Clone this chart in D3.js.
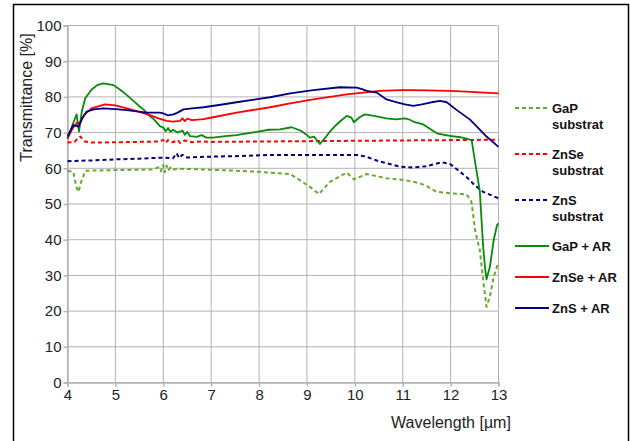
<!DOCTYPE html>
<html>
<head>
<meta charset="utf-8">
<script src="https://cdn.jsdelivr.net/npm/d3@7"></script>
<style>
  body { margin: 0; background: #fff; }
  text { font-family: "Liberation Sans", Arial, sans-serif; }
</style>
</head>
<body>
<div id="chart"></div>
<script>
// data: wavelength [um] and transmittance [%]
const gapSubX = [4.0, 4.12, 4.18, 4.23, 4.28, 4.37, 4.6, 5.0, 5.5, 5.8, 5.9, 5.95, 6.0, 6.03, 6.07, 6.1, 6.15, 6.2, 6.3, 6.5, 6.77, 7.4, 8.02, 8.65, 8.85, 9.06, 9.25, 9.48, 9.83, 9.98, 10.25, 10.66, 11.05, 11.36, 11.5, 11.71, 12.0, 12.33, 12.42, 12.44, 12.51, 12.61, 12.68, 12.75, 12.82, 12.9, 12.99];
const gapSubY = [59.3, 59.0, 55.0, 53.4, 56.0, 59.3, 59.4, 59.5, 59.6, 59.7, 60.3, 59.2, 61.0, 58.9, 60.8, 59.4, 60.2, 59.6, 59.9, 59.8, 59.7, 59.4, 59.0, 58.4, 56.7, 54.8, 52.8, 56.2, 58.8, 56.9, 58.4, 57.2, 56.7, 55.8, 55.0, 53.4, 53.0, 52.7, 51.1, 50.2, 42.7, 37.1, 28.7, 21.2, 24.0, 29.6, 33.4];

const znseSubX = [4.0, 4.15, 4.22, 4.27, 4.35, 4.5, 5.0, 5.5, 5.9, 6.0, 6.05, 6.1, 6.2, 6.3, 6.35, 6.45, 6.6, 6.8, 7.0, 8.0, 9.0, 10.0, 11.0, 12.0, 13.0];
const znseSubY = [67.2, 67.4, 68.5, 68.9, 67.6, 67.2, 67.3, 67.4, 67.5, 67.9, 67.1, 67.9, 67.3, 67.9, 67.1, 67.8, 67.3, 67.5, 67.4, 67.5, 67.6, 67.7, 67.8, 67.9, 68.0];

const znsSubX = [4.0, 4.5, 5.0, 5.5, 6.0, 6.2, 6.28, 6.33, 6.4, 6.5, 6.77, 7.5, 8.16, 9.0, 10.04, 10.2, 10.52, 10.94, 11.22, 11.5, 11.81, 11.99, 12.15, 12.33, 12.5, 12.68, 13.0];
const znsSubY = [62.0, 62.2, 62.5, 62.7, 63.0, 62.8, 64.2, 62.9, 63.8, 63.0, 63.2, 63.4, 63.7, 63.7, 63.7, 63.4, 61.9, 60.5, 60.2, 60.6, 61.7, 61.2, 59.5, 57.6, 55.3, 53.4, 51.6];

const gapArX = [4.0, 4.1, 4.19, 4.24, 4.3, 4.37, 4.5, 4.62, 4.75, 4.96, 5.1, 5.24, 5.4, 5.51, 5.6, 5.72, 5.8, 5.93, 6.0, 6.05, 6.1, 6.15, 6.2, 6.3, 6.4, 6.45, 6.5, 6.56, 6.7, 6.8, 6.9, 7.04, 7.3, 7.53, 7.75, 7.95, 8.2, 8.44, 8.68, 8.78, 8.89, 9.0, 9.06, 9.15, 9.2, 9.27, 9.38, 9.48, 9.6, 9.69, 9.83, 9.93, 9.98, 10.1, 10.21, 10.4, 10.66, 10.85, 11.05, 11.15, 11.25, 11.43, 11.55, 11.71, 11.85, 11.99, 12.2, 12.37, 12.44, 12.52, 12.61, 12.68, 12.72, 12.75, 12.82, 12.9, 12.97, 13.0];
const gapArY = [68.2, 72.0, 75.1, 70.3, 76.0, 79.6, 82.0, 83.3, 83.8, 83.3, 82.0, 80.5, 78.6, 77.3, 76.3, 74.6, 73.8, 71.8, 71.4, 70.4, 71.3, 70.2, 70.8, 70.0, 70.6, 69.4, 70.2, 69.0, 68.8, 69.3, 68.6, 68.6, 69.0, 69.3, 69.8, 70.2, 70.8, 70.9, 71.5, 71.0, 70.4, 69.3, 68.6, 68.9, 68.0, 66.8, 68.5, 70.3, 72.0, 73.1, 74.7, 74.2, 72.9, 74.3, 75.1, 74.7, 74.0, 73.7, 74.0, 73.6, 72.9, 72.3, 71.2, 69.8, 69.4, 69.1, 68.7, 68.2, 67.8, 61.0, 53.5, 38.0, 32.0, 28.9, 32.4, 39.9, 44.1, 44.6];

const znseArX = [4.0, 4.1, 4.2, 4.25, 4.35, 4.5, 4.78, 5.0, 5.24, 5.5, 5.72, 5.9, 6.07, 6.2, 6.35, 6.4, 6.45, 6.5, 6.6, 6.84, 7.04, 7.53, 8.23, 8.65, 9.13, 9.83, 10.52, 10.94, 11.15, 11.5, 11.99, 12.33, 13.0];
const znseArY = [68.4, 71.0, 72.8, 72.5, 75.0, 76.8, 77.9, 77.6, 76.8, 75.8, 74.9, 74.0, 73.3, 73.1, 73.3, 74.0, 73.2, 73.9, 73.5, 73.8, 74.3, 75.6, 77.1, 78.2, 79.3, 80.7, 81.7, 81.9, 81.9, 81.8, 81.7, 81.5, 81.0];

const znsArX = [4.0, 4.12, 4.23, 4.3, 4.4, 4.55, 4.75, 5.0, 5.24, 5.65, 5.93, 6.0, 6.1, 6.21, 6.3, 6.42, 6.6, 6.84, 7.2, 7.53, 8.23, 8.65, 9.13, 9.69, 10.04, 10.15, 10.25, 10.46, 10.66, 10.9, 11.05, 11.22, 11.4, 11.6, 11.78, 11.92, 12.13, 12.4, 12.6, 12.75, 13.0];
const znsArY = [68.9, 72.1, 71.7, 73.8, 75.9, 76.5, 76.8, 76.6, 76.3, 75.6, 75.6, 75.4, 74.8, 75.1, 75.6, 76.5, 76.8, 77.1, 77.8, 78.5, 79.9, 81.0, 81.9, 82.7, 82.6, 82.2, 81.7, 81.2, 79.3, 78.4, 77.9, 77.5, 77.9, 78.5, 78.9, 78.5, 76.3, 73.7, 71.0, 68.9, 66.0];

const xTicks = [4, 5, 6, 7, 8, 9, 10, 11, 12, 13];
const yTicks = [0, 10, 20, 30, 40, 50, 60, 70, 80, 90, 100];

const series = [
  {name: ["GaP", "substrat"], xs: gapSubX, ys: gapSubY, color: "#66aa2e", dash: true},
  {name: ["ZnSe", "substrat"], xs: znseSubX, ys: znseSubY, color: "#ff0000", dash: true},
  {name: ["ZnS", "substrat"], xs: znsSubX, ys: znsSubY, color: "#000080", dash: true},
  {name: ["GaP + AR"], xs: gapArX, ys: gapArY, color: "#0a8a0a", dash: false},
  {name: ["ZnSe + AR"], xs: znseArX, ys: znseArY, color: "#ff0000", dash: false},
  {name: ["ZnS + AR"], xs: znsArX, ys: znsArY, color: "#000080", dash: false}
];

const W = 630, H = 441;
const margin = {top: 25.5, right: 131.5, bottom: 58.5, left: 67.5},
    width = W - margin.left - margin.right,
    height = H - margin.top - margin.bottom;

const root = d3.select("#chart")
    .append("svg")
    .attr("width", W)
    .attr("height", H);

// outer frame
root.append("rect")
    .attr("x", 13.5).attr("y", 4.5)
    .attr("width", 615).attr("height", 460)
    .attr("fill", "none")
    .attr("stroke", "#000")
    .attr("stroke-width", 1.5);

const svg = root.append("g")
    .attr("transform", `translate(${margin.left},${margin.top})`);

const x = d3.scaleLinear().domain([4, 13]).range([0, width]);
const y = d3.scaleLinear().domain([0, 100]).range([height, 0]);

// grid
svg.append("g")
    .selectAll("line.v")
    .data(xTicks)
    .join("line")
    .attr("x1", d => x(d)).attr("x2", d => x(d))
    .attr("y1", 0).attr("y2", height)
    .attr("stroke", "#b3b3b3");
svg.append("g")
    .selectAll("line.h")
    .data(yTicks)
    .join("line")
    .attr("x1", 0).attr("x2", width)
    .attr("y1", d => y(d)).attr("y2", d => y(d))
    .attr("stroke", "#b3b3b3");

// axes
const xAxis = svg.append("g")
    .attr("transform", `translate(0,${height})`)
    .call(d3.axisBottom(x).tickValues(xTicks).tickSize(4).tickPadding(3).tickFormat(d3.format("d")));
const yAxis = svg.append("g")
    .call(d3.axisLeft(y).tickValues(yTicks).tickSize(4).tickPadding(2).tickFormat(d3.format("d")));

[xAxis, yAxis].forEach(a => {
  a.select(".domain").attr("stroke", "#b3b3b3").attr("stroke-width", 1.5);
  a.selectAll(".tick line").attr("stroke", "#b3b3b3").attr("stroke-width", 1.5);
  a.selectAll(".tick text")
      .attr("fill", "#222")
      .style("font-size", "15px")
      .style("font-family", "Liberation Sans, Arial, sans-serif");
});

// axis titles
root.append("text")
    .attr("transform", `translate(32,${margin.top + 72}) rotate(-90)`)
    .attr("text-anchor", "middle")
    .attr("fill", "#222")
    .style("font-size", "16px")
    .text("Transmittance [%]");
root.append("text")
    .attr("x", 451).attr("y", 428)
    .attr("text-anchor", "middle")
    .attr("fill", "#222")
    .style("font-size", "16px")
    .text("Wavelength [µm]");

// curves
const line = d3.line()
    .x(d => x(d[0]))
    .y(d => y(d[1]));

svg.append("g")
    .selectAll("path")
    .data(series)
    .join("path")
    .attr("d", s => line(d3.zip(s.xs, s.ys)))
    .attr("fill", "none")
    .attr("stroke", s => s.color)
    .attr("stroke-width", s => s.dash ? 2 : 1.8)
    .attr("stroke-dasharray", s => s.dash ? "4,3" : null)
    .attr("stroke-linejoin", "round");

// legend
const legendY = [108, 154, 200, 246, 277, 308];
const legend = root.append("g")
    .selectAll("g")
    .data(series)
    .join("g")
    .attr("transform", (d, i) => `translate(515,${legendY[i]})`);

legend.append("line")
    .attr("x1", 0).attr("x2", 34)
    .attr("stroke", d => d.color)
    .attr("stroke-width", d => d.dash ? 2 : 1.8)
    .attr("stroke-dasharray", d => d.dash ? "4,3" : null);

legend.each(function (d) {
  const t = d3.select(this).append("text")
      .attr("x", 37)
      .attr("y", 4.5)
      .attr("fill", "#111")
      .style("font-size", "13px")
      .style("font-weight", "bold");
  d.name.forEach((n, k) => {
    t.append("tspan")
        .attr("x", 37)
        .attr("dy", k === 0 ? 0 : 16)
        .text(n);
  });
});
</script>
</body>
</html>
